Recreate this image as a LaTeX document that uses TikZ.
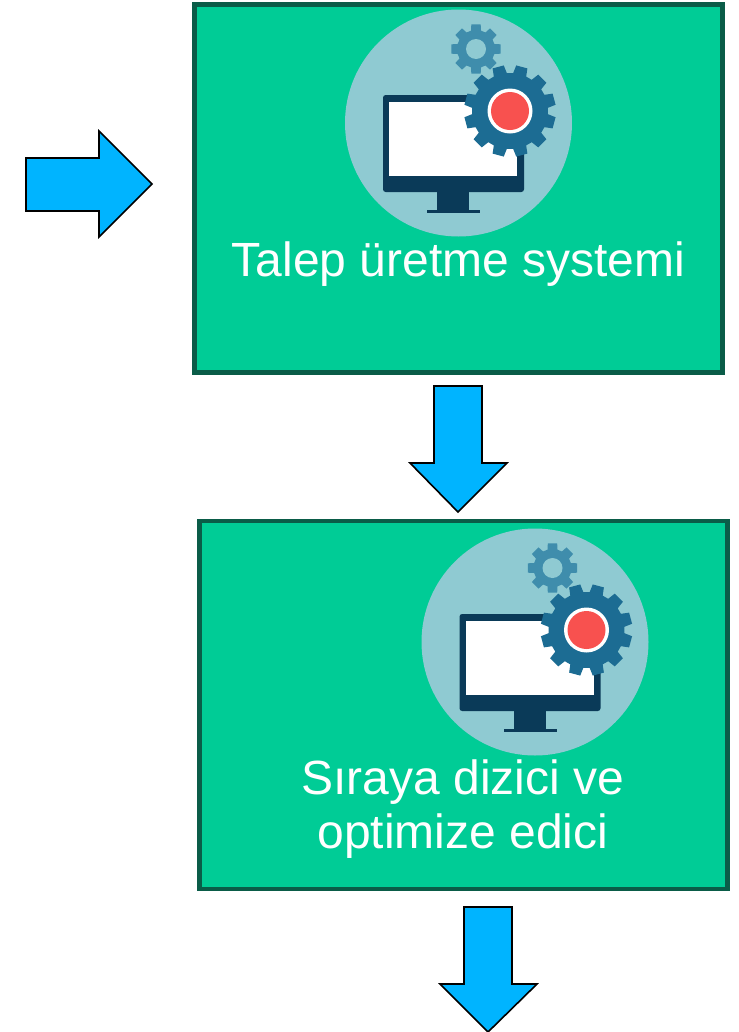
\documentclass[tikz,border=0pt]{standalone}
\usepackage{fontspec}
\setmainfont{Liberation Sans}
\definecolor{boxgreen}{HTML}{00CC96}
\definecolor{boxedge}{HTML}{0A5C48}
\definecolor{arrowblue}{HTML}{00B4FF}
\definecolor{disc}{HTML}{8FCAD2}
\definecolor{mon}{HTML}{0A3A58}
\definecolor{gearbig}{HTML}{1C6C93}
\definecolor{gearsmall}{HTML}{3F8DAC}
\definecolor{redc}{HTML}{F8514F}
% teeth, root radius, tip radius, phase
\newcommand{\gearpath}[4]{%
  ({#4-0.34*360/#1}:#2) \foreach \k in {1,...,#1}{
    -- ({(\k-1)*360/#1+#4-0.34*360/#1}:#2)
    -- ({(\k-1)*360/#1+#4-0.24*360/#1}:#3)
    -- ({(\k-1)*360/#1+#4+0.24*360/#1}:#3)
    -- ({(\k-1)*360/#1+#4+0.34*360/#1}:#2)
  } -- cycle}
\tikzset{
  panel/.style={draw=boxedge,line width=3.2pt,fill=boxgreen,minimum width=396pt,minimum height=276pt,inner sep=0pt},
  blockarrow/.style={draw=black,line width=1.2pt,fill=arrowblue,miter limit=10},
  caption/.style={text=white,font=\fontsize{36}{40}\selectfont,align=center,inner sep=0pt},
  icon/.pic={
    \fill[disc] (0,0) circle[radius=113.5];
    \fill[mon,rounded corners=2pt] (-75.5,-28) rectangle (65.5,69);
    \fill[white] (-69.5,-21) rectangle (58.5,53);
    \fill[mon] (-21.5,69) rectangle (10.5,88);
    \fill[mon] (-31.5,87) rectangle (21.5,90);
    \fill[gearsmall,shift={(17.5,-74)}] \gearpath{8}{19}{25}{0};
    \fill[disc] (17.5,-74) circle[radius=10];
    \fill[gearbig,shift={(51.5,-12)}] \gearpath{12}{38}{46}{15};
    \fill[white] (51.5,-12) circle[radius=22.5];
    \fill[redc] (51.5,-12) circle[radius=19];
  }
}
\begin{document}
\begin{tikzpicture}[x=0.75pt,y=-0.75pt]
\useasboundingbox (0,0) rectangle (739,1032);
\node[panel] (sys) at (458.5,188.5) {};
\node[panel] (opt) at (463.5,705) {};
\pic at (458.5,123) {icon};
\pic at (535,642) {icon};
\node[caption] (t1) at (458.5,264) {Talep üretme systemi};
\node[caption] (t2a) at (463,782) {Sıraya dizici ve};
\node[caption] (t2b) at (463,836) {optimize edici};
\draw[blockarrow] (26,158) -- (99,158) -- (99,131) -- (152,184) -- (99,237) -- (99,211) -- (26,211) -- cycle;
\draw[blockarrow] (434,386) -- (482,386) -- (482,463) -- (507,463) -- (458,512) -- (410,463) -- (434,463) -- cycle;
\draw[blockarrow] (464,907) -- (512,907) -- (512,984) -- (537,984) -- (488,1032) -- (440,984) -- (464,984) -- cycle;
\end{tikzpicture}
\end{document}
